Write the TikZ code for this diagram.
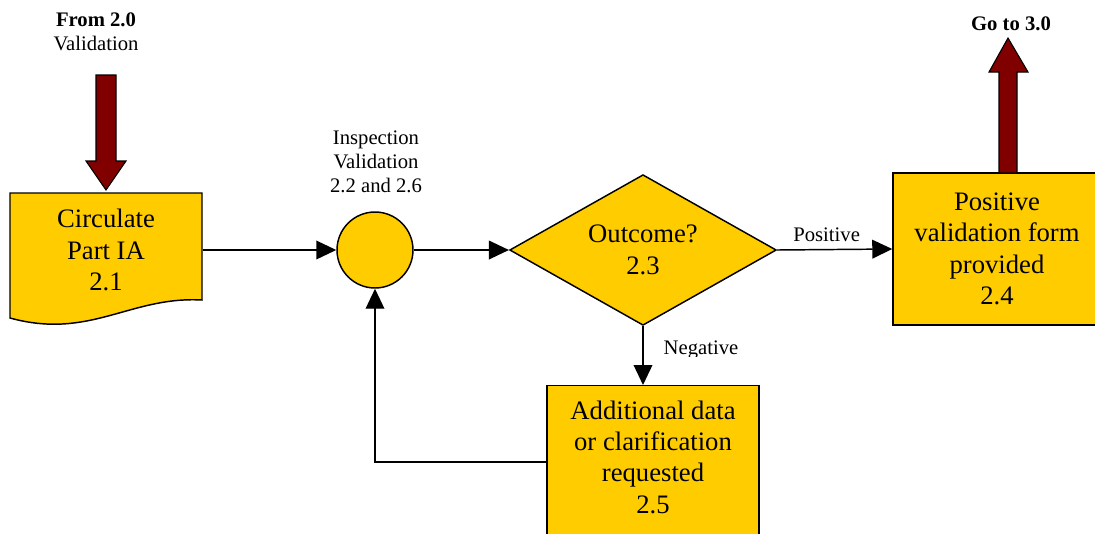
\documentclass[tikz,border=0pt]{standalone}
\usepackage{fontspec}
\setmainfont{Liberation Serif}
\usetikzlibrary{arrows.meta,shapes.geometric}
\definecolor{boxyellow}{HTML}{FFCC00}
\definecolor{flowred}{HTML}{800000}
\tikzset{
  stepbox/.style={draw=black, line width=1.1pt, fill=boxyellow, inner sep=0pt,
    align=center, font=\fontsize{20}{23.5}\selectfont},
  lbl/.style={align=center, inner sep=0pt, font=\fontsize{15.5}{18}\selectfont},
  flow/.style={draw=black, line width=1.1pt, -{Triangle[length=15pt,width=14pt]}},
  bigarrow/.style={draw=black, line width=0.8pt, fill=flowred},
}
\begin{document}
\begin{tikzpicture}[x=0.75pt, y=-0.75pt]
\useasboundingbox (0,0) rectangle (1095,533);

% 2.1 document shape (outline drawn here, node holds the text)
\fill[boxyellow] (10,193) -- (202,193) -- (202,300)
  .. controls (130,296) and (90,340) .. (10,318) -- cycle;
\draw[line width=1.1pt] (10,193) -- (202,193) -- (202,300)
  .. controls (130,296) and (90,340) .. (10,318) -- cycle;
\node[stepbox, draw=none, fill=none, minimum width=144pt, minimum height=85.5pt]
  (circ) at (106,250) {Circulate\\Part IA\\2.1};

% incoming arrow from 2.0
\draw[bigarrow] (96,75) -- (116,75) -- (116,161) -- (126,161) -- (106,190)
  -- (86,161) -- (96,161) -- cycle;
\node[lbl] (from) at (96,32) {\textbf{From 2.0}\\Validation};

% inspection connector
\node[draw=black, line width=1.1pt, fill=boxyellow, circle, minimum size=57pt,
  inner sep=0pt] (insp) at (375,250) {};
\node[lbl] (insplbl) at (376,162) {Inspection\\Validation\\2.2 and 2.6};

% decision
\node[draw=black, line width=1.1pt, fill=boxyellow, diamond, shape aspect=1.75,
  inner sep=0pt, minimum width=200pt, minimum height=113pt,
  font=\fontsize{20}{23.5}\selectfont, align=center] (dec) at (643,250) {Outcome?\\2.3};

% 2.4
\node[stepbox, minimum width=156pt, minimum height=114pt] (pos) at (997,249)
  {Positive\\validation form\\provided\\2.4};

% outgoing arrow to 3.0
\draw[bigarrow] (999,173) -- (1017,173) -- (1017,72) -- (1028,72) -- (1008,38)
  -- (989,72) -- (999,72) -- cycle;
\node[lbl, font=\fontsize{15.5}{18}\selectfont\bfseries] (goto) at (1011,24) {Go to 3.0};

% 2.5
\node[stepbox, minimum width=159pt, minimum height=120pt, anchor=north]
  (add) at (653,385) {};
\node[stepbox, draw=none, fill=none] (addtxt) at (653,457)
  {Additional data\\or clarification\\requested\\2.5};

% connectors
\draw[flow] (circ.east) -- (insp.west);
\draw[flow] (insp.east) -- (dec.west);
\draw[flow] (dec.east) -- node[lbl, above=5pt, xshift=-6pt] {Positive} (pos.west);
\draw[flow] (dec.south) -- (add.north -| dec.south);
\draw[flow] (add.west |- 0,462) -- (375,462) -- (insp.south);

% label under the decision, cut off along its lower edge
\begin{scope}
  \clip (655,330) rectangle (760,356.5);
  \node[lbl] (neglbl) at (701,350) {Negative};
\end{scope}
\end{tikzpicture}
\end{document}
